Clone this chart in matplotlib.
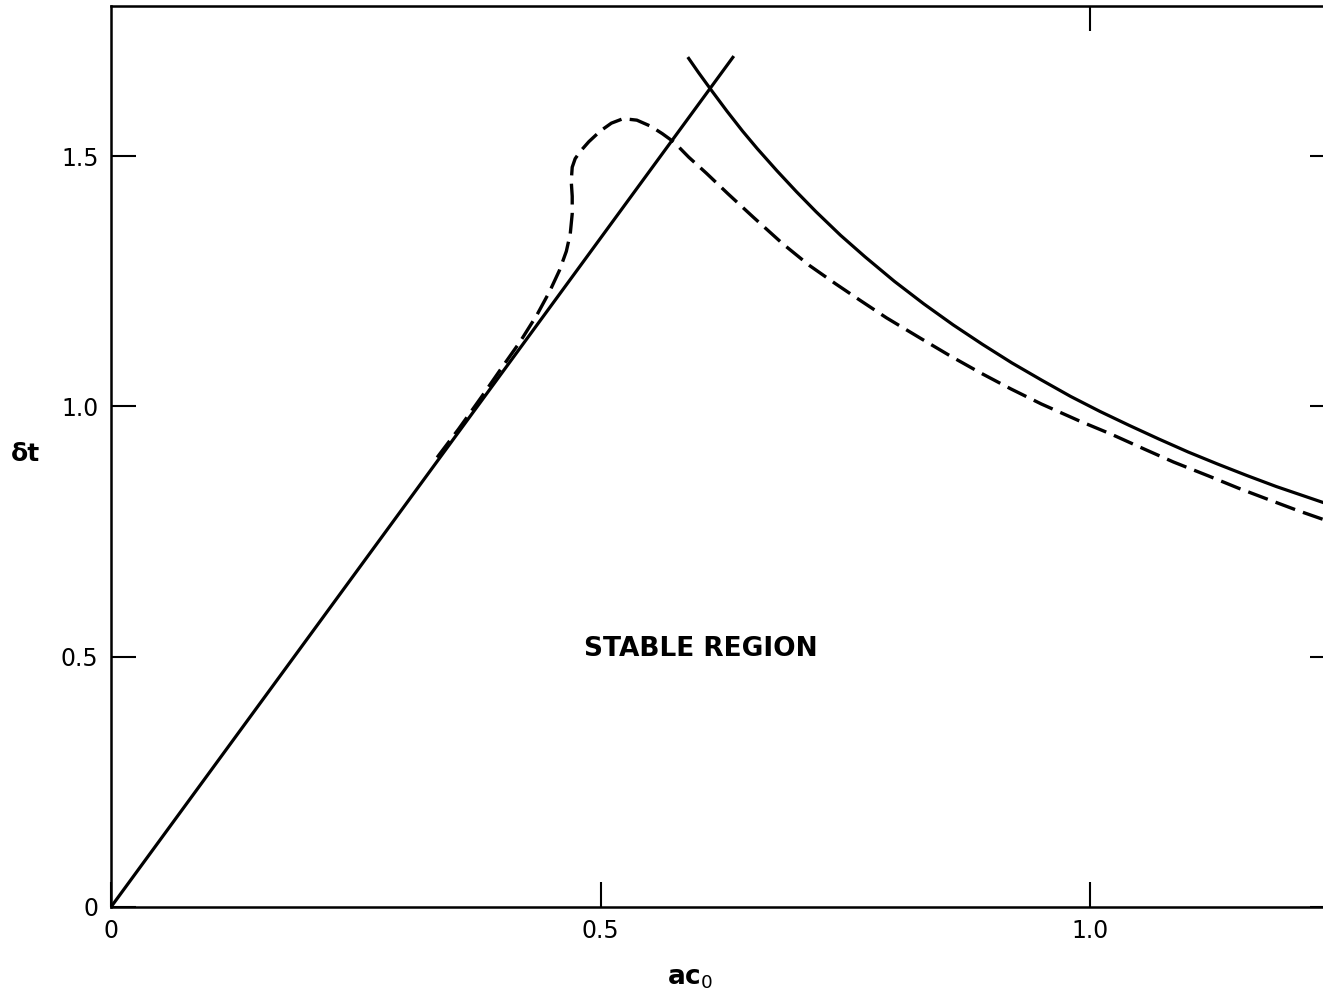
import matplotlib
matplotlib.use('Agg')
import matplotlib.pyplot as plt

# values
line_x = [0.0, 0.636]
line_y = [0.0, 1.70]

curve_x = [0.589, 0.60, 0.613, 0.629, 0.645, 0.66, 0.68, 0.70, 0.72, 0.745,
           0.77, 0.80, 0.83, 0.86, 0.89, 0.92, 0.95, 0.98, 1.01, 1.04, 1.07,
           1.10, 1.13, 1.16, 1.19, 1.22, 1.25]
curve_y = [1.698, 1.667, 1.632, 1.590, 1.550, 1.515, 1.471, 1.429, 1.389,
           1.342, 1.299, 1.250, 1.205, 1.163, 1.124, 1.087, 1.053, 1.020,
           0.990, 0.962, 0.935, 0.909, 0.885, 0.862, 0.840, 0.820, 0.800]

dash_x = [0.333, 0.355, 0.378, 0.40, 0.418, 0.435, 0.448, 0.458, 0.465,
          0.469, 0.471, 0.471, 0.470, 0.471, 0.474, 0.479, 0.488, 0.4995,
          0.511, 0.523, 0.537, 0.551, 0.563, 0.575, 0.59, 0.608, 0.63, 0.656,
          0.686, 0.713, 0.74, 0.765, 0.792, 0.826, 0.857, 0.888, 0.919,
          0.950, 0.989, 1.021, 1.055, 1.085, 1.121, 1.151, 1.182, 1.212, 1.25]
dash_y = [0.898, 0.955, 1.018, 1.080, 1.130, 1.183, 1.230, 1.272, 1.310,
          1.345, 1.385, 1.420, 1.450, 1.478, 1.495, 1.509, 1.529, 1.550,
          1.566, 1.575, 1.572, 1.560, 1.545, 1.528, 1.498, 1.466, 1.425,
          1.378, 1.325, 1.282, 1.245, 1.212, 1.177, 1.137, 1.101, 1.067,
          1.035, 1.005, 0.971, 0.945, 0.915, 0.889, 0.861, 0.837, 0.814,
          0.792, 0.766]

xticks = [0, 0.5, 1.0]
xtick_labels = ['0', '0.5', '1.0']
yticks = [0, 0.5, 1.0, 1.5]
ytick_labels = ['0', '0.5', '1.0', '1.5']

plt.rcParams['font.family'] = ['DejaVu Sans']
plt.rcParams['lines.scale_dashes'] = False

fig = plt.figure(figsize=(13.23, 9.88), dpi=100)
ax = fig.add_axes([0.0839, 0.0820, 0.9252, 0.9119])

ax.plot(line_x, line_y, 'k-', lw=2.3, solid_capstyle='butt')
ax.plot(curve_x, curve_y, 'k-', lw=2.3, solid_capstyle='butt',
        solid_joinstyle='round')
ax.plot(dash_x, dash_y, 'k-', lw=2.4, dashes=(15, 6),
        dash_joinstyle='round')

ax.set_xlim(0, 1.25)
ax.set_ylim(0, 1.8)

ax.set_xticks(xticks)
ax.set_xticklabels(xtick_labels)
ax.set_yticks(yticks)
ax.set_yticklabels(ytick_labels)
ax.tick_params(axis='both', direction='in', length=18, width=1.5,
               labelsize=17, pad=9)
ax.tick_params(axis='y', right=True)

top = ax.secondary_xaxis('top')
top.set_ticks([1.0])
top.set_xticklabels([''])
top.tick_params(direction='in', length=18, width=1.5)

for s in ax.spines.values():
    s.set_linewidth(1.8)

ax.set_xlabel('ac$_0$', fontsize=19, fontweight='bold')
ax.xaxis.set_label_coords(0.473, -0.064)
ax.set_ylabel('δt', fontsize=18, fontweight='bold', rotation=0,
              va='center', ha='center')
ax.yaxis.set_label_coords(-0.070, 0.503)

ax.text(0.602, 0.516, 'STABLE REGION', fontsize=19, fontweight='bold',
        ha='center', va='center')

plt.savefig('out.png', dpi=100)
plt.close()
